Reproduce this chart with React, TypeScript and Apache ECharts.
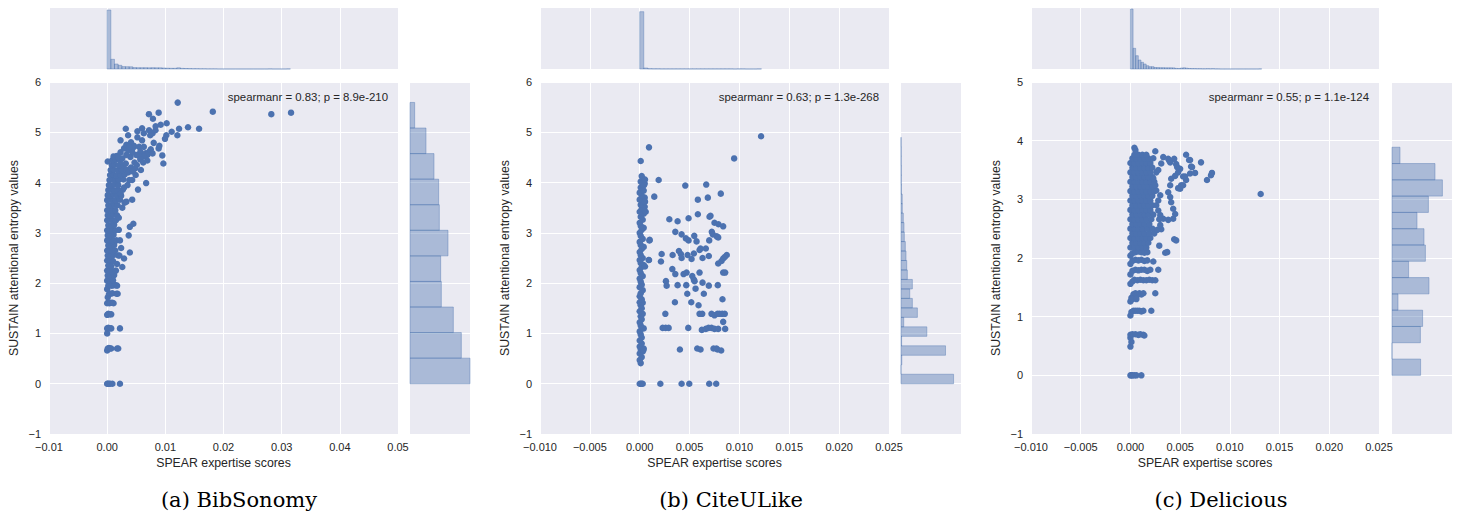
import React, { useEffect, useRef } from "react";
import * as echarts from "echarts";

// ---------- data ----------
const captions = ["(a) BibSonomy", "(b) CiteULike", "(c) Delicious"];
const annotations = [
  "spearmanr = 0.83; p = 8.9e-210",
  "spearmanr = 0.63; p = 1.3e-268",
  "spearmanr = 0.55; p = 1.1e-124",
];
const xAxisName = "SPEAR expertise scores";
const yAxisName = "SUSTAIN attentional entropy values";

const bibPoints: [number, number][] = [
  [0,0],[0.0001,0],[0.0003,0],[0.0005,0],[0.0009,0],[0.0022,0],
  [0,0.66],[0.0001,0.7],[0.0003,0.71],[0.0005,0.7],[0.0007,0.7],[0.0017,0.7],[0.0019,0.7],
  [0,1.0],[0,1.1],[0.0002,1.11],[0.0004,1.1],[0.0007,1.1],[0.0022,1.1],
  [0,1.37],[0.0002,1.39],[0.0004,1.38],[0.0007,1.38],
  [0,1.6],[0.0002,1.62],[0.0004,1.6],[0.0006,1.61],[0.0009,1.61],[0.0011,1.6],
  [0.0001,1.72],[0.0003,1.78],[0.0006,1.79],[0.0009,1.8],[0.0016,1.79],[0.0018,1.79],
  [0,1.88],[0.0002,1.95],[0.0005,1.96],[0.0008,1.95],[0.0011,1.96],[0.0014,1.96],[0.0017,1.95],
  [0,2.05],[0.0005,2.05],[0.001,2.06],
  [0.0001,2.15],[0.0006,2.14],[0.0012,2.16],
  [0,2.25],[0.0004,2.26],[0.0009,2.24],[0.0015,2.25],
  [0.0002,2.35],[0.0007,2.34],[0.0017,2.38],
  [0,2.45],[0.0005,2.46],[0.001,2.44],
  [0.0001,2.55],[0.0006,2.54],[0.0011,2.56],[0.0019,2.55],
  [0,2.65],[0.0004,2.66],[0.0009,2.64],[0.0014,2.65],
  [0.0002,2.75],[0.0007,2.74],[0.0012,2.76],
  [0,2.85],[0.0005,2.86],[0.001,2.84],[0.0016,2.85],
  [0.0001,2.95],[0.0006,2.94],[0.0011,2.96],
  [0,3.05],[0.0004,3.06],[0.0009,3.04],[0.0014,3.05],[0.002,3.06],
  [0.0002,3.15],[0.0007,3.14],[0.0012,3.16],
  [0,3.25],[0.0005,3.26],[0.001,3.24],[0.0015,3.25],
  [0.0001,3.35],[0.0006,3.34],[0.0011,3.36],[0.0017,3.35],
  [0,3.45],[0.0004,3.46],[0.0009,3.44],[0.0014,3.45],
  [0.0002,3.55],[0.0007,3.54],[0.0012,3.56],[0.0018,3.55],
  [0,3.65],[0.0005,3.66],[0.001,3.64],[0.0015,3.65],[0.0022,3.66],
  [0.0001,3.75],[0.0006,3.74],[0.0011,3.76],[0.0017,3.75],[0.0024,3.74],
  [0.0002,3.85],[0.0007,3.86],[0.0012,3.84],[0.0018,3.85],[0.0027,3.86],
  [0.0003,3.95],[0.0008,3.94],[0.0013,3.96],[0.0019,3.95],
  [0.0004,4.05],[0.0009,4.06],[0.0014,4.04],[0.002,4.05],[0.0028,4.06],
  [0.0005,4.15],[0.001,4.16],[0.0016,4.14],[0.0023,4.15],[0.003,4.16],
  [0.0006,4.25],[0.0011,4.26],[0.0018,4.24],[0.0025,4.25],[0.0033,4.26],
  [0.0008,4.35],[0.0013,4.36],[0.002,4.34],[0.0028,4.35],
  [0.0001,4.42],[0.0009,4.45],[0.0015,4.46],[0.0022,4.44],
  [0.0011,4.52],[0.0017,4.53],[0.0019,4.5],
  [0.0026,2.32],[0.0029,2.49],[0.0039,2.61],[0.0037,2.95],[0.0039,3.12],[0.0045,3.18],
  [0.0043,3.66],[0.0021,2.55],[0.0024,2.7],[0.0022,2.85],[0.002,3.3],[0.0026,3.5],
  [0.003,3.6],[0.0033,3.62],[0.0023,3.78],[0.0029,3.9],[0.0035,3.95],[0.0038,4.05],
  [0.0043,4.05],[0.0049,4.15],[0.0053,3.86],[0.0067,3.99],[0.0036,4.2],[0.0041,4.3],
  [0.0032,4.38],[0.0047,4.4],[0.004,4.51],[0.0026,4.48],[0.0033,4.55],[0.0023,4.6],
  [0.0036,4.65],[0.0029,4.68],[0.0023,4.84],[0.0033,4.75],[0.0036,4.94],[0.0032,5.07],
  [0.0046,4.73],[0.0052,5.02],[0.0041,4.8],
  [0.0055,4.71],[0.006,4.84],[0.0063,4.71],[0.0057,4.61],[0.0066,4.58],[0.0072,4.61],
  [0.0069,4.55],[0.0075,4.66],[0.0078,4.58],[0.0063,4.52],[0.0056,4.52],[0.005,4.55],
  [0.0043,4.61],[0.0069,4.44],[0.008,4.79],[0.0074,4.94],[0.0078,4.98],[0.0083,5.04],
  [0.0063,4.98],[0.006,5.08],[0.0072,5.04],[0.0052,4.9],[0.0046,4.71],[0.0038,4.71],
  [0.0057,4.46],[0.0051,4.35],[0.0062,4.4],[0.0048,4.28],[0.0058,4.25],[0.0044,4.22],
  [0.00718,5.36],[0.00787,5.27],[0.00885,5.39],[0.01023,5.18],[0.0092,5.15],[0.00833,5.12],
  [0.0139,5.1],[0.0158,5.07],[0.01236,5.07],[0.01109,5.01],[0.01207,4.94],[0.01017,4.94],
  [0.00994,4.87],[0.00897,4.73],[0.00885,4.68],[0.00948,4.54],[0.00966,4.38],
  [0.01213,5.59],[0.01816,5.41],[0.02822,5.36],[0.03161,5.39],
];

const citePoints: [number, number][] = [
  [0,0],[0.0001,0],[0.0002,0],[0.0003,0],[0.00207,0],[0.0042,0],[0.00497,0],[0.00697,0],[0.00767,0],
  [0.0001,0.41],[0,0.47],[0.0002,0.53],[0,0.6],[0.0003,0.64],[0.0001,0.68],[0.0004,0.7],[0,0.74],
  [0.0002,0.8],[0,0.86],[0.0002,0.92],[0.0001,0.98],[0,1.04],[0.0002,1.1],[0.0004,1.1],[0.0001,1.16],
  [0,1.22],[0.0002,1.28],[0.0001,1.34],[0.0003,1.39],[0,1.44],[0.0002,1.5],[0.0001,1.56],[0,1.62],
  [0.0003,1.61],[0.0002,1.68],[0,1.74],[0.0001,1.8],[0.0003,1.86],[0,1.92],[0.0002,1.97],[0.0001,2.03],
  [0,2.09],[0.0003,2.14],[0.0001,2.2],[0,2.26],[0.0002,2.32],[0.0004,2.36],[0.0001,2.4],[0,2.46],
  [0.0003,2.5],[0.0001,2.56],[0,2.62],[0.0002,2.68],[0.0004,2.72],[0.0001,2.76],[0,2.82],[0.0003,2.88],
  [0.0001,2.94],[0,3.0],[0.0002,3.06],[0.0004,3.1],[0.0001,3.14],[0,3.2],[0.0003,3.26],[0.0001,3.32],
  [0.0004,3.38],[0,3.42],[0.0002,3.48],[0.0005,3.52],[0.0001,3.56],[0.0003,3.62],[0,3.66],[0.0005,3.7],
  [0.0002,3.74],[0,3.8],[0.0004,3.84],[0.0001,3.9],[0.0003,3.96],[0.0005,3.98],[0.0001,4.02],
  [0.0003,4.08],[0.0002,4.13],
  [0.00053,4.06],[0.00043,3.95],[0.00053,3.62],[0.0006,3.42],[0.00053,2.33],[0.00037,0.67],
  [0.0001,4.43],[0.00093,4.7],[0.0019,4.05],[0.00146,3.72],[0.001,2.86],[0.00093,2.46],
  [0.01217,4.92],[0.00947,4.48],[0.00457,3.94],[0.00667,3.96],[0.00813,3.78],[0.00583,3.66],
  [0.00683,3.7],[0.00297,3.27],[0.0038,3.23],[0.0049,3.29],[0.00583,3.37],[0.007,3.32],
  [0.0071,3.34],[0.0075,3.2],[0.0079,3.17],[0.00837,3.13],[0.00357,3.02],[0.0042,2.97],
  [0.00463,2.89],[0.0049,2.85],[0.00547,2.94],[0.0057,2.83],[0.00723,3.02],[0.00733,2.97],
  [0.00697,2.85],[0.00773,2.93],[0.00787,2.91],[0.00097,2.85],[0.0009,2.46],[0.0022,2.58],
  [0.00213,2.43],[0.0033,2.56],[0.00393,2.64],[0.00413,2.58],[0.0042,2.5],[0.0048,2.56],
  [0.0052,2.48],[0.00543,2.59],[0.006,2.66],[0.0061,2.69],[0.0063,2.5],[0.00663,2.69],
  [0.00693,2.54],[0.00787,2.39],[0.0082,2.44],[0.00837,2.49],[0.00853,2.52],[0.00873,2.56],
  [0.00327,2.28],[0.00357,2.18],[0.0044,2.18],[0.0047,2.21],[0.00527,2.14],[0.00543,2.07],
  [0.0055,2.04],[0.006,2.21],[0.00837,2.21],[0.00857,2.21],[0.00263,2.04],[0.0027,1.95],
  [0.0038,1.96],[0.00467,1.96],[0.0056,1.89],[0.0063,2.01],[0.00693,1.95],[0.00783,1.96],
  [0.00477,1.79],[0.00643,1.79],[0.0083,1.68],[0.00353,1.62],[0.00517,1.62],[0.0059,1.56],
  [0.00257,1.39],[0.006,1.39],[0.00627,1.39],[0.0072,1.39],[0.0075,1.36],[0.0078,1.39],
  [0.008,1.39],[0.00827,1.39],[0.00853,1.39],[0.00837,1.23],[0.0023,1.11],[0.0026,1.11],
  [0.0029,1.11],[0.00487,1.11],[0.00623,1.07],[0.00663,1.09],[0.0069,1.11],[0.0072,1.11],
  [0.0075,1.09],[0.00787,1.09],[0.00857,1.09],[0.00403,0.68],[0.00577,0.7],[0.0061,0.68],
  [0.0074,0.7],[0.0077,0.7],[0.0078,0.68],[0.00817,0.66],
];

const deliPoints: [number, number][] = [
  [0,0],[0.0001,0],[0.0002,0],[0.0004,0],[0.0006,0],[0.0011,0],
  [0,0.49],[0.0001,0.57],[0,0.64],[0,0.69],[0.0002,0.7],[0.0005,0.7],[0.0008,0.69],[0.001,0.7],
  [0.0013,0.69],[0.0014,0.68],
  [0,1.02],[0.0001,1.08],[0.0003,1.1],[0.0005,1.1],[0.0007,1.1],[0.0009,1.1],[0.0011,1.09],
  [0.0013,1.1],[0.0021,1.1],
  [0,1.26],[0.0001,1.32],[0.0003,1.38],[0.0005,1.4],[0.0007,1.37],[0.0009,1.4],[0.0011,1.38],
  [0.0013,1.4],[0.0025,1.4],[0.0002,1.3],[0.0006,1.3],
  [0,1.56],[0.0002,1.6],[0.0004,1.63],[0.0007,1.62],[0.001,1.63],[0.0013,1.62],[0.0016,1.62],
  [0.0019,1.63],[0.0022,1.62],[0.0025,1.62],
  [0,1.72],[0.0002,1.78],[0.0005,1.8],[0.0008,1.79],[0.0011,1.8],[0.0014,1.8],[0.0017,1.78],
  [0.002,1.8],[0.0028,1.8],
  [0,1.9],[0.0002,1.95],[0.0005,1.97],[0.0008,1.96],[0.0011,1.97],[0.0014,1.95],[0.0017,1.96],
  [0.0023,1.94],
  [0,2.04],[0.0002,2.08],[0.0005,2.1],[0.0008,2.11],[0.0011,2.1],[0.0014,2.09],[0.0017,2.1],
  [0.0035,2.09],[0.0037,2.1],[0.0029,2.21],[0.0044,2.32],[0.0046,2.3],[0.0031,2.49],
  [0,2.18],[0.0004,2.18],[0.0008,2.18],[0.0012,2.18],[0.0016,2.18],
  [0.0002,2.26],[0.0006,2.26],[0.001,2.26],[0.0014,2.26],[0.0018,2.26],
  [0,2.34],[0.0004,2.34],[0.0008,2.34],[0.0012,2.34],[0.0016,2.34],[0.002,2.34],
  [0.0002,2.42],[0.0006,2.42],[0.001,2.42],[0.0014,2.42],[0.0019,2.42],[0.0024,2.42],
  [0,2.5],[0.0004,2.5],[0.0008,2.5],[0.0012,2.5],[0.0017,2.5],[0.0022,2.5],[0.0027,2.48],
  [0.0002,2.58],[0.0006,2.58],[0.001,2.58],[0.0014,2.58],[0.0019,2.58],
  [0,2.66],[0.0004,2.66],[0.0008,2.66],[0.0012,2.66],[0.0016,2.66],[0.0021,2.66],
  [0.0002,2.74],[0.0006,2.74],[0.001,2.74],[0.0014,2.74],[0.0018,2.74],[0.0023,2.74],
  [0,2.82],[0.0004,2.82],[0.0008,2.82],[0.0012,2.82],[0.0016,2.82],[0.002,2.82],
  [0.0002,2.9],[0.0006,2.9],[0.001,2.9],[0.0014,2.9],[0.0018,2.9],[0.0022,2.9],
  [0,2.98],[0.0004,2.98],[0.0008,2.98],[0.0012,2.98],[0.0016,2.98],[0.002,2.98],
  [0.0002,3.06],[0.0006,3.06],[0.001,3.06],[0.0014,3.06],[0.0018,3.06],[0.0022,3.06],
  [0,3.14],[0.0004,3.14],[0.0008,3.14],[0.0012,3.14],[0.0016,3.14],[0.002,3.14],[0.0024,3.14],
  [0.0002,3.22],[0.0006,3.22],[0.001,3.22],[0.0014,3.22],[0.0018,3.22],[0.0022,3.22],
  [0,3.3],[0.0004,3.3],[0.0008,3.3],[0.0012,3.3],[0.0016,3.3],[0.002,3.3],[0.0024,3.3],
  [0.0002,3.38],[0.0006,3.38],[0.001,3.38],[0.0014,3.38],[0.0018,3.38],[0.0022,3.38],
  [0,3.46],[0.0004,3.46],[0.0008,3.46],[0.0012,3.46],[0.0016,3.46],[0.002,3.46],[0.0026,3.46],
  [0.0002,3.54],[0.0006,3.54],[0.001,3.54],[0.0014,3.54],[0.0018,3.54],[0.0022,3.54],
  [0,3.62],[0.0004,3.62],[0.0008,3.62],[0.0012,3.62],[0.0016,3.62],[0.002,3.62],
  [0.0002,3.7],[0.0006,3.7],[0.001,3.7],[0.0014,3.7],[0.0018,3.7],[0.0023,3.7],
  [0.0004,3.76],[0.0008,3.76],[0.0012,3.76],[0.0016,3.76],
  [0.0005,3.84],[0.0025,3.82],[0.0004,3.88],
  [0.0033,3.72],[0.0038,3.69],[0.004,3.63],[0.0046,3.6],[0.005,3.52],[0.0048,3.46],
  [0.0045,3.4],[0.0041,3.35],[0.004,3.24],[0.0038,3.12],[0.004,3.04],[0.0041,2.95],
  [0.0043,2.84],[0.0045,2.75],[0.0043,2.67],[0.0038,2.65],[0.0033,2.67],[0.003,2.73],
  [0.0028,2.81],[0.0026,2.9],[0.0028,2.98],[0.003,3.07],[0.0026,3.15],[0.0025,3.24],
  [0.0031,3.61],[0.0028,3.5],[0.0023,3.36],[0.003,2.56],[0.0029,2.66],
  [0.0053,3.39],[0.0056,3.33],[0.0051,3.24],[0.0048,3.19],[0.006,3.44],[0.0061,3.56],
  [0.0056,3.76],[0.006,3.67],[0.0071,3.63],[0.0065,3.45],[0.0062,3.55],[0.005,3.18],
  [0.0053,3.24],[0.0055,3.39],[0.0059,3.67],[0.0077,3.33],[0.0081,3.41],[0.0082,3.45],
  [0.0044,3.69],[0.0047,3.55],[0.0039,3.66],
  [0.0131,3.09],
];

// marginal histograms along x (bin start, bin width, counts)
const bibTopStart = 0, bibTopWidth = 0.00063;
const bibTopCounts = [590, 97, 50, 37, 24, 23, 22, 14, 13, 13, 13, 12, 13, 12, 12, 10, 8, 7, 7, 12, 6, 5, 4, 3, 3, 2, 2, 1, 1, 1, 0, 0, 0, 0, 0, 0, 0, 0, 0, 0, 0, 0, 0, 0, 1, 0, 0, 0, 0, 1];
const citeTopStart = 0, citeTopWidth = 0.000407;
const citeTopCounts = [573, 10, 3, 2, 2, 1, 1, 1, 1, 1, 1, 1, 1, 1, 1, 1, 1, 1, 1, 1, 1, 1, 1, 0, 1, 1, 0, 0, 0, 1];
const deliTopStart = 0, deliTopWidth = 0.000264;
const deliTopCounts = [600, 207, 133, 90, 67, 50, 33, 23, 23, 15, 14, 13, 13, 12, 12, 12, 11, 6, 5, 10, 12, 8, 5, 4, 4, 3, 3, 2, 2, 3, 2, 3, 1, 1, 0, 0, 0, 0, 0, 0, 0, 0, 0, 0, 0, 0, 0, 0, 0, 1];
const topCountMax = 610;

// marginal histograms along y (bin start, bin width, counts from bottom bin up)
const bibRightStart = 0, bibRightWidth = 0.5085;
const bibRightCounts = [90, 77, 65, 47, 46, 57, 44, 43, 36, 24, 7];
const bibRightMax = 90;
const citeRightStart = 0, citeRightWidth = 0.1885;
const citeRightCounts = [523, 0, 8, 443, 6, 257, 27, 163, 113, 87, 113, 63, 57, 50, 43, 33, 30, 23, 13, 12, 4, 3, 3, 2, 2, 1];
const citeRightMax = 597;
const deliRightStart = 0, deliRightWidth = 0.2777;
const deliRightCounts = [143, 0, 142, 153, 30, 185, 83, 167, 160, 125, 182, 252, 215, 40];
const deliRightMax = 300;

// axes ranges
const xRanges = [
  { min: -0.01, max: 0.05, interval: 0.01, digits: 2 },
  { min: -0.01, max: 0.025, interval: 0.005, digits: 3 },
  { min: -0.01, max: 0.025, interval: 0.005, digits: 3 },
];
const yRanges = [
  { min: -1, max: 6 },
  { min: -1, max: 6 },
  { min: -1, max: 5 },
];

// ---------- layout ----------
const panelLayout = [
  { main: [49, 82, 349, 352], top: [49, 8, 349, 61], right: [410, 82, 60, 352], caption: 239, annRight: 388 },
  { main: [540, 82, 349, 352], top: [540, 8, 349, 61], right: [901, 82, 60, 352], caption: 731, annRight: 879 },
  { main: [1031, 82, 348, 352], top: [1031, 8, 348, 61], right: [1392, 82, 60, 352], caption: 1221, annRight: 1369 },
];

const FONT = "Liberation Sans, Arial, sans-serif";
const TEXT = "#262626";
const BG = "#EAEAF2";
const BLUE = "#4C72B0";
const HIST_FILL = "rgba(76,114,176,0.4)";

function binsOf(start: number, width: number, counts: number[]) {
  return counts.map((c, i) => [start + i * width, start + (i + 1) * width, c]);
}

const fmt = (d: number) => (v: number) => {
  const val = Math.abs(v) < 1e-12 ? 0 : v;
  return val.toFixed(d).replace("-", "\u2212");
};

export default function App() {
  const ref = useRef<HTMLDivElement>(null);
  useEffect(() => {
    if (!ref.current) return;
    const chart = echarts.init(ref.current, undefined, { renderer: "svg" });
    const points = [bibPoints, citePoints, deliPoints];
    const tops = [
      binsOf(bibTopStart, bibTopWidth, bibTopCounts),
      binsOf(citeTopStart, citeTopWidth, citeTopCounts),
      binsOf(deliTopStart, deliTopWidth, deliTopCounts),
    ];
    const rights = [
      binsOf(bibRightStart, bibRightWidth, bibRightCounts),
      binsOf(citeRightStart, citeRightWidth, citeRightCounts),
      binsOf(deliRightStart, deliRightWidth, deliRightCounts),
    ];
    const rightMax = [bibRightMax, citeRightMax, deliRightMax];

    const grids: any[] = [];
    const xAxes: any[] = [];
    const yAxes: any[] = [];
    const series: any[] = [];
    const graphics: any[] = [];
    const split = { show: true, lineStyle: { color: "#ffffff", width: 1 } };
    const labelStyle = { color: TEXT, fontSize: 11, fontFamily: FONT };
    const nameStyle = { color: TEXT, fontSize: 12.3, fontFamily: FONT };

    panelLayout.forEach((L, p) => {
      const g = (r: number[]) => ({
        left: r[0], top: r[1], width: r[2], height: r[3],
        show: true, backgroundColor: BG, borderWidth: 0, containLabel: false,
      });
      grids.push(g(L.main), g(L.top), g(L.right));
      const xr = xRanges[p];
      const yr = yRanges[p];
      const base = p * 3;
      // main axes
      xAxes.push({
        gridIndex: base, type: "value", min: xr.min, max: xr.max, interval: xr.interval,
        axisLine: { show: false }, axisTick: { show: false },
        axisLabel: { ...labelStyle, margin: 7, formatter: fmt(xr.digits), showMinLabel: true, showMaxLabel: true },
        splitLine: split,
        name: xAxisName, nameLocation: "middle", nameGap: 22,
        nameTextStyle: { ...nameStyle },
      });
      yAxes.push({
        gridIndex: base, type: "value", min: yr.min, max: yr.max, interval: 1,
        axisLine: { show: false }, axisTick: { show: false },
        axisLabel: { ...labelStyle, margin: 8, formatter: fmt(0), showMinLabel: true, showMaxLabel: true },
        splitLine: split,
        name: yAxisName, nameLocation: "middle", nameGap: 29,
        nameTextStyle: { ...nameStyle },
      });
      // top marginal
      xAxes.push({
        gridIndex: base + 1, type: "value", min: xr.min, max: xr.max, interval: xr.interval,
        axisLine: { show: false }, axisTick: { show: false }, axisLabel: { show: false },
        splitLine: split,
      });
      yAxes.push({ gridIndex: base + 1, type: "value", min: 0, max: topCountMax, show: false, splitLine: { show: false } });
      // right marginal
      xAxes.push({ gridIndex: base + 2, type: "value", min: 0, max: rightMax[p], show: false, splitLine: { show: false } });
      yAxes.push({
        gridIndex: base + 2, type: "value", min: yr.min, max: yr.max, interval: 1,
        axisLine: { show: false }, axisTick: { show: false }, axisLabel: { show: false },
        splitLine: split,
      });

      series.push({
        type: "scatter", xAxisIndex: base, yAxisIndex: base, data: points[p],
        symbol: "circle", symbolSize: 6.5, itemStyle: { color: BLUE, opacity: 1 },
        silent: true,
      });
      series.push({
        type: "custom", xAxisIndex: base + 1, yAxisIndex: base + 1, data: tops[p],
        encode: { x: [0, 1], y: 2 }, silent: true,
        renderItem: (_params: any, api: any) => {
          const a = api.coord([api.value(0), api.value(2)]);
          const b = api.coord([api.value(1), 0]);
          return {
            type: "rect",
            shape: { x: a[0], y: a[1], width: b[0] - a[0], height: b[1] - a[1] },
            style: { fill: HIST_FILL, stroke: HIST_FILL, lineWidth: 1 },
          };
        },
      });
      series.push({
        type: "custom", xAxisIndex: base + 2, yAxisIndex: base + 2, data: rights[p],
        encode: { x: 2, y: [0, 1] }, silent: true,
        renderItem: (_params: any, api: any) => {
          const a = api.coord([0, api.value(1)]);
          const b = api.coord([api.value(2), api.value(0)]);
          return {
            type: "rect",
            shape: { x: a[0], y: a[1], width: b[0] - a[0], height: b[1] - a[1] },
            style: { fill: HIST_FILL, stroke: HIST_FILL, lineWidth: 1 },
          };
        },
      });

      graphics.push({
        type: "text", x: L.annRight, y: 97, silent: true, z: 100,
        style: { text: annotations[p], align: "right", verticalAlign: "middle", font: `11.4px ${FONT}`, fill: TEXT },
      });
      graphics.push({
        type: "text", x: L.caption, y: 500, silent: true, z: 100,
        style: { text: captions[p], align: "center", verticalAlign: "middle", font: `21px "DejaVu Serif", serif`, fill: "#000000" },
      });
    });

    chart.setOption({
      animation: false,
      backgroundColor: "#ffffff",
      grid: grids,
      xAxis: xAxes,
      yAxis: yAxes,
      series,
      graphic: graphics,
    });
    return () => chart.dispose();
  }, []);
  return <div ref={ref} style={{ position: "absolute", left: 0, top: 0, width: 1457, height: 512 }} />;
}
